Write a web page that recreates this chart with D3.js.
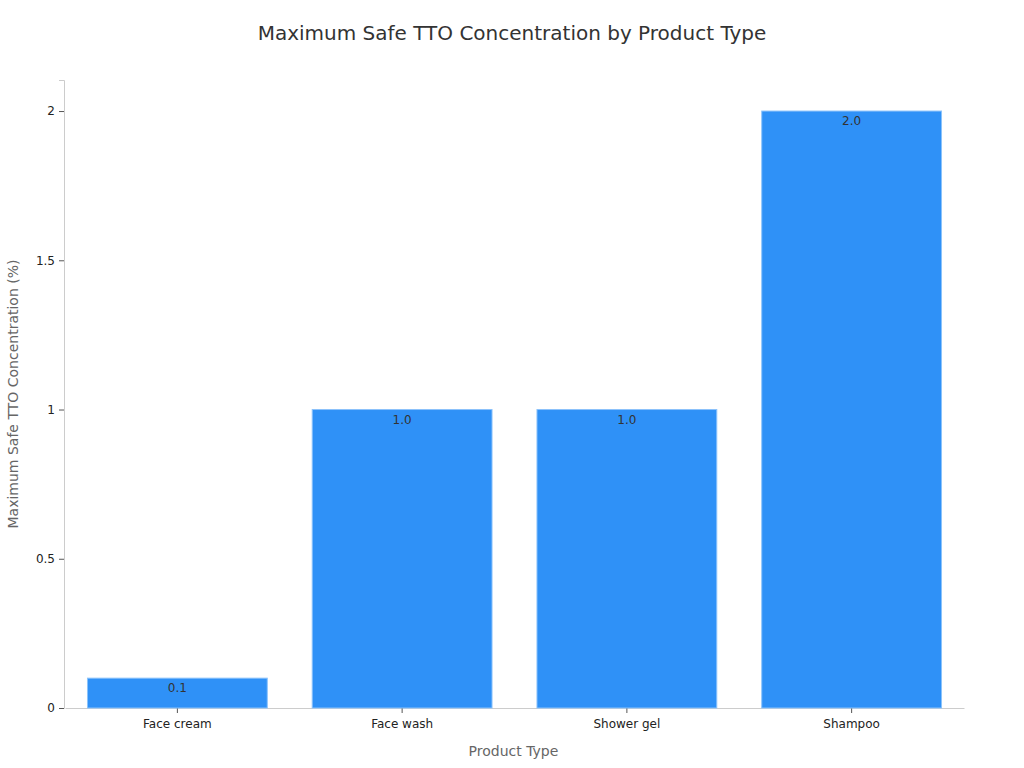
<!DOCTYPE html>
<html>
<head>
<meta charset="utf-8">
<script src="https://cdn.jsdelivr.net/npm/d3@7"></script>
<style>
  body { margin: 0; background: #fff; }
  svg text { font-family: "DejaVu Sans", sans-serif; }
</style>
</head>
<body>
<div id="chart"></div>
<script>
// Chart data
const products = ["Face cream", "Face wash", "Shower gel", "Shampoo"];
const concentrations = [0.1, 1.0, 1.0, 2.0];
const yTicks = [0, 0.5, 1, 1.5, 2];

const W = 1024, H = 768;
const margin = {top: 80, right: 61, bottom: 60, left: 64};
const width = W - margin.left - margin.right;
const height = H - margin.top - margin.bottom;

const svg = d3.select("#chart").append("svg")
    .attr("width", W)
    .attr("height", H);

// Title
svg.append("text")
    .attr("x", W / 2)
    .attr("y", 40)
    .attr("text-anchor", "middle")
    .attr("fill", "#333")
    .style("font-size", "20px")
    .text("Maximum Safe TTO Concentration by Product Type");

const g = svg.append("g")
    .attr("transform", "translate(" + margin.left + "," + margin.top + ")");

const x = d3.scaleBand()
    .domain(products)
    .range([1, width + 1])
    .paddingInner(0.2)
    .paddingOuter(0.1);

const y = d3.scaleLinear()
    .domain([0, 2.104])
    .range([height, 0]);

// Y axis
const yAxis = g.append("g")
    .call(d3.axisLeft(y).tickValues(yTicks).tickSize(5).tickPadding(4).tickFormat(d3.format("")));
yAxis.select(".domain").attr("stroke", "#ccc");
yAxis.selectAll(".tick line").attr("stroke", "#555");
yAxis.selectAll(".tick text").attr("fill", "#222").style("font-size", "12px");

// X axis
const xAxis = g.append("g")
    .attr("transform", "translate(0," + height + ")")
    .call(d3.axisBottom(x).tickSize(5).tickPadding(6).tickSizeOuter(0));
xAxis.select(".domain").attr("stroke", "#ccc");
xAxis.selectAll(".tick line").attr("stroke", "#555");
xAxis.selectAll(".tick text").attr("fill", "#222").style("font-size", "12px");

// Bars
g.selectAll("rect.bar")
    .data(concentrations)
    .enter().append("rect")
    .attr("class", "bar")
    .attr("x", (d, i) => x(products[i]))
    .attr("y", d => y(d))
    .attr("width", x.bandwidth())
    .attr("height", d => height - y(d))
    .attr("fill", "#2f91f7")
    .attr("stroke", "#8cc3fb")
    .attr("stroke-width", 1);

// Value labels
g.selectAll("text.val")
    .data(concentrations)
    .enter().append("text")
    .attr("class", "val")
    .attr("x", (d, i) => x(products[i]) + x.bandwidth() / 2)
    .attr("y", d => y(d) + 14)
    .attr("text-anchor", "middle")
    .attr("fill", "#333")
    .style("font-size", "12px")
    .text(d => d.toFixed(1));

// Axis labels
svg.append("text")
    .attr("x", margin.left + width / 2)
    .attr("y", 756)
    .attr("text-anchor", "middle")
    .attr("fill", "#666")
    .style("font-size", "14px")
    .text("Product Type");

svg.append("text")
    .attr("transform", "rotate(-90)")
    .attr("x", -(margin.top + height / 2))
    .attr("y", 18)
    .attr("text-anchor", "middle")
    .attr("fill", "#666")
    .style("font-size", "14px")
    .text("Maximum Safe TTO Concentration (%)");
</script>
</body>
</html>
